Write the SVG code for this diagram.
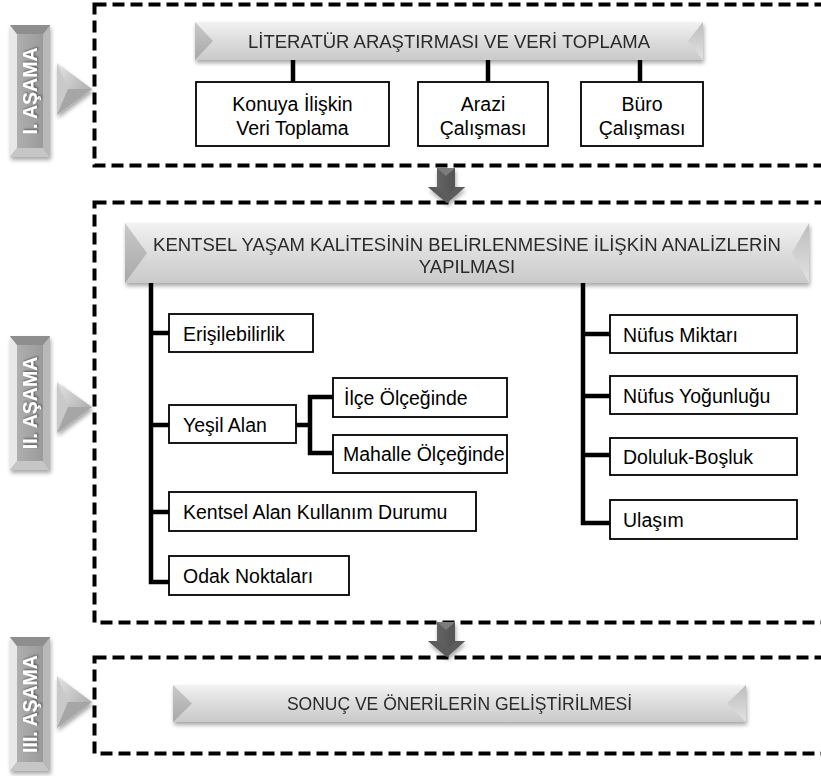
<svg xmlns="http://www.w3.org/2000/svg" width="821" height="776" viewBox="0 0 821 776">
<defs>
<filter id="sh" x="-20%" y="-30%" width="140%" height="170%">
<feGaussianBlur in="SourceAlpha" stdDeviation="2.2"/>
<feOffset dx="1" dy="3" result="b"/>
<feComponentTransfer><feFuncA type="linear" slope="0.35"/></feComponentTransfer>
<feMerge><feMergeNode/><feMergeNode in="SourceGraphic"/></feMerge>
</filter>
<filter id="tsh" x="-20%" y="-20%" width="140%" height="140%">
<feGaussianBlur in="SourceAlpha" stdDeviation="1"/>
<feOffset dx="1" dy="1"/>
<feComponentTransfer><feFuncA type="linear" slope="0.5"/></feComponentTransfer>
<feMerge><feMergeNode/><feMergeNode in="SourceGraphic"/></feMerge>
</filter>
<linearGradient id="bface" x1="0" y1="0" x2="0" y2="1">
<stop offset="0" stop-color="#f2f2f2"/>
<stop offset="0.5" stop-color="#dcdcdc"/>
<stop offset="1" stop-color="#cacaca"/>
</linearGradient>
<linearGradient id="blev" x1="0" y1="0" x2="0" y2="1">
<stop offset="0" stop-color="#c9c9c9"/>
<stop offset="1" stop-color="#a8a8a8"/>
</linearGradient>
<linearGradient id="brev" x1="0" y1="0" x2="0" y2="1">
<stop offset="0" stop-color="#bdbdbd"/>
<stop offset="1" stop-color="#e2e2e2"/>
</linearGradient>
<linearGradient id="sface" x1="0" y1="0" x2="1" y2="0">
<stop offset="0" stop-color="#b4b4b4"/>
<stop offset="1" stop-color="#959595"/>
</linearGradient>
<linearGradient id="tri" x1="0" y1="0" x2="1" y2="1">
<stop offset="0" stop-color="#e4e4e4"/>
<stop offset="1" stop-color="#9c9c9c"/>
</linearGradient>
<linearGradient id="arr" x1="0" y1="0" x2="1" y2="0">
<stop offset="0" stop-color="#6c6c6c"/>
<stop offset="1" stop-color="#4a4a4a"/>
</linearGradient>
</defs>
<style>
.dash{fill:none;stroke:#000;stroke-width:4;stroke-dasharray:12 6}
.box{fill:#fff;stroke:#000;stroke-width:1.8}
.t{font-family:"Liberation Sans",Arial,sans-serif;font-size:19.5px;fill:#000;text-anchor:middle}
.l{text-anchor:start}
.bt{font-family:"Liberation Sans",Arial,sans-serif;font-size:18.5px;fill:#2a2a2a;text-anchor:middle}
.st{font-family:"Liberation Sans",Arial,sans-serif;font-size:19.5px;font-weight:bold;fill:#fff;text-anchor:middle}
.ln{fill:none;stroke:#000;stroke-width:4.5}
.face{fill:url(#bface)}
.lb{fill:url(#blev)}
.rb{fill:url(#brev)}
.sf{fill:url(#sface)}
</style>
<rect width="821" height="776" fill="#fff"/>

<g id="frames">
<rect class="dash" x="94.5" y="4.5" width="735" height="161"/>
<rect class="dash" x="94.5" y="202.5" width="735" height="420"/>
<rect class="dash" x="94.5" y="657.5" width="735" height="96"/>
</g>

<g id="stage1" filter="url(#sh)">
<rect class="sf" x="10" y="25" width="40" height="132"/>
<polygon points="10,25 17,34 17,148 10,157" fill="#e8e8e8"/>
<polygon points="50,25 43,34 43,148 50,157" fill="#b8b8b8"/>
<polygon points="10,25 50,25 43,34 17,34" fill="#8e8e8e"/>
<polygon points="10,157 50,157 43,148 17,148" fill="#c6c6c6"/>
<text class="st" transform="translate(37,91) rotate(-90)" filter="url(#tsh)">I. AŞAMA</text>
<polygon points="57,63 92,89 57,115" fill="url(#tri)"/>
<polygon points="57,63 68,89 57,115" fill="#c9c9c9"/>
<polygon points="57,115 68,89 92,89" fill="#a6a6a6"/>
</g>

<g id="stage2" filter="url(#sh)">
<rect class="sf" x="10" y="336" width="40" height="134"/>
<polygon points="10,336 17,345 17,461 10,470" fill="#e8e8e8"/>
<polygon points="50,336 43,345 43,461 50,470" fill="#b8b8b8"/>
<polygon points="10,336 50,336 43,345 17,345" fill="#8e8e8e"/>
<polygon points="10,470 50,470 43,461 17,461" fill="#c6c6c6"/>
<text class="st" transform="translate(37,403) rotate(-90)" filter="url(#tsh)">II. AŞAMA</text>
<polygon points="57,382 92,407 57,433" fill="url(#tri)"/>
<polygon points="57,382 68,407 57,433" fill="#c9c9c9"/>
<polygon points="57,433 68,407 92,407" fill="#a6a6a6"/>
</g>

<g id="stage3" filter="url(#sh)">
<rect class="sf" x="10" y="637" width="40" height="134"/>
<polygon points="10,637 17,646 17,762 10,771" fill="#e8e8e8"/>
<polygon points="50,637 43,646 43,762 50,771" fill="#b8b8b8"/>
<polygon points="10,637 50,637 43,646 17,646" fill="#8e8e8e"/>
<polygon points="10,771 50,771 43,762 17,762" fill="#c6c6c6"/>
<text class="st" transform="translate(37,704) rotate(-90)" filter="url(#tsh)">III. AŞAMA</text>
<polygon points="57,676 92,702 57,728" fill="url(#tri)"/>
<polygon points="57,676 68,702 57,728" fill="#c9c9c9"/>
<polygon points="57,728 68,702 92,702" fill="#a6a6a6"/>
</g>

<g id="arrow1" filter="url(#sh)">
<polygon points="437,168 455,168 455,187 465,187 447,203 428,187 437,187" fill="url(#arr)"/>
<polygon points="437,168 446,176 455,168" fill="#7c7c7c"/>
<polygon points="428,187 437,187 447,195 457,187 465,187 447,203" fill="#5c5c5c"/>
</g>
<g id="arrow2" filter="url(#sh)">
<polygon points="437,622 455,622 455,641 465,641 447,657 428,641 437,641" fill="url(#arr)"/>
<polygon points="437,622 446,630 455,622" fill="#7c7c7c"/>
<polygon points="428,641 437,641 447,649 457,641 465,641 447,657" fill="#5c5c5c"/>
</g>

<g id="connectors">
<path class="ln" d="M293,60V82M488,60V82M640,60V82"/>
<path class="ln" d="M151,283V582H169M151,333H169M151,425H169M151,512H169"/>
<path class="ln" d="M296,425H310M333,397H310V453H333"/>
<path class="ln" d="M583,283V523H610M583,334H610M583,396H610M583,455H610"/>
</g>

<g id="banner1" filter="url(#sh)">
<rect class="face" x="195" y="22" width="508" height="38"/>
<polygon class="lb" points="195,22 213,41 195,60"/>
<polygon class="rb" points="703,22 688,41 703,60"/>
<text class="bt" x="449" y="48">LİTERATÜR ARAŞTIRMASI VE VERİ TOPLAMA</text>
</g>

<g id="n-konuya">
<rect class="box" x="196" y="82" width="193" height="64"/>
<text class="t" x="292.5" y="110.5">Konuya İlişkin</text>
<text class="t" x="292.5" y="135">Veri Toplama</text>
</g>
<g id="n-arazi">
<rect class="box" x="418" y="82" width="130" height="64"/>
<text class="t" x="483" y="110.5">Arazi</text>
<text class="t" x="483" y="135">Çalışması</text>
</g>
<g id="n-buro">
<rect class="box" x="581" y="82" width="122" height="64"/>
<text class="t" x="642" y="110.5">Büro</text>
<text class="t" x="642" y="135">Çalışması</text>
</g>

<g id="banner2" filter="url(#sh)">
<rect class="face" x="125" y="223" width="684" height="60"/>
<polygon class="lb" points="125,223 147,253 125,283"/>
<polygon class="rb" points="809,223 792,253 809,283"/>
<text class="bt" x="467" y="251">KENTSEL YAŞAM KALİTESİNİN BELİRLENMESİNE İLİŞKİN ANALİZLERİN</text>
<text class="bt" x="467" y="273">YAPILMASI</text>
</g>

<g id="n-erisilebilirlik">
<rect class="box" x="169" y="314" width="144" height="38"/>
<text class="t l" x="183" y="340.5">Erişilebilirlik</text>
</g>
<g id="n-yesil">
<rect class="box" x="169" y="405" width="127" height="38"/>
<text class="t l" x="183" y="431.5">Yeşil Alan</text>
</g>
<g id="n-ilce">
<rect class="box" x="333" y="378" width="174" height="39"/>
<text class="t l" x="344" y="404.5">İlçe Ölçeğinde</text>
</g>
<g id="n-mahalle">
<rect class="box" x="333" y="435" width="174" height="38"/>
<text class="t l" x="343" y="461">Mahalle Ölçeğinde</text>
</g>
<g id="n-kentsel">
<rect class="box" x="169" y="492" width="307" height="39"/>
<text class="t l" x="183" y="518.5">Kentsel Alan Kullanım Durumu</text>
</g>
<g id="n-odak">
<rect class="box" x="169" y="556" width="180" height="39"/>
<text class="t l" x="183" y="582.5">Odak Noktaları</text>
</g>

<g id="n-nufusmiktari">
<rect class="box" x="610" y="315" width="187" height="38"/>
<text class="t l" x="623" y="341.5">Nüfus Miktarı</text>
</g>
<g id="n-nufusyogunlugu">
<rect class="box" x="610" y="376" width="187" height="38"/>
<text class="t l" x="623" y="402.5">Nüfus Yoğunluğu</text>
</g>
<g id="n-doluluk">
<rect class="box" x="610" y="438" width="187" height="37"/>
<text class="t l" x="623" y="464">Doluluk-Boşluk</text>
</g>
<g id="n-ulasim">
<rect class="box" x="610" y="500" width="187" height="39"/>
<text class="t l" x="623" y="526.5">Ulaşım</text>
</g>

<g id="banner3" filter="url(#sh)">
<rect class="face" x="173" y="685" width="573" height="37"/>
<polygon class="lb" points="173,685 192,703.5 173,722"/>
<polygon class="rb" points="746,685 727,703.5 746,722"/>
<text class="bt" x="459.5" y="710" style="font-size:17.5px">SONUÇ VE ÖNERİLERİN GELİŞTİRİLMESİ</text>
</g>
</svg>
